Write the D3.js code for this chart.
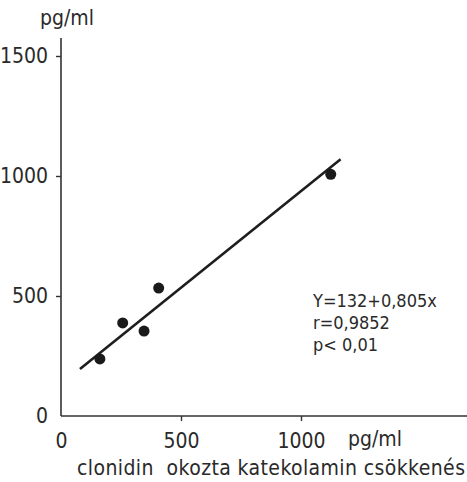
<!DOCTYPE html>
<html>
<head>
<meta charset="utf-8">
<script src="https://cdn.jsdelivr.net/npm/d3@7"></script>
<style>
body { margin: 0; background: #fff; }
text { font-family: "Liberation Sans Narrow", "DejaVu Sans Condensed", "Liberation Sans", sans-serif; fill: #2a2a2a; }
</style>
</head>
<body>
<svg id="chart"></svg>
<script>
// measured points (pg/ml)
var xVals = [162, 257, 346, 407, 1124];
var yVals = [238, 388, 354, 533, 1007];
var xTicks = [0, 500, 1000];
var yTicks = [0, 500, 1000, 1500];
var intercept = 132, slope = 0.805;
var lineRange = [79, 1165];
var statLines = ["Y=132+0,805x", "r=0,9852", "p< 0,01"];

var width = 467,
    height = 482;

var svg = d3.select("#chart").attr("width", width).attr("height", height);

var x = d3.scaleLinear().domain([0, 1000]).range([61, 301]);
var y = d3.scaleLinear().domain([0, 1500]).range([416, 56]);

// axes lines
svg.append("line").attr("x1", x(0)).attr("x2", width).attr("y1", y(0)).attr("y2", y(0))
	.attr("stroke", "#333").attr("stroke-width", 1.6);
svg.append("line").attr("x1", x(0)).attr("x2", x(0)).attr("y1", 38).attr("y2", y(0))
	.attr("stroke", "#333").attr("stroke-width", 1.6);

var xAxis = svg.append("g").attr("transform", "translate(0," + y(0) + ")")
	.call(d3.axisBottom(x).tickValues(xTicks).tickSize(5).tickPadding(12).tickFormat(d3.format("d")));
var yAxis = svg.append("g").attr("transform", "translate(" + x(0) + ",0)")
	.call(d3.axisLeft(y).tickValues(yTicks).tickSize(5).tickPadding(8).tickFormat(d3.format("d")));

[xAxis, yAxis].forEach(function(g) {
	g.select(".domain").remove();
	g.selectAll(".tick line").attr("stroke", "#333").attr("stroke-width", 1.4);
	g.selectAll(".tick text").style("font-size", "21px").attr("fill", "#2a2a2a");
});
xAxis.selectAll(".tick").filter(function(d) { return d == 0; }).select("line").remove();
yAxis.selectAll(".tick").filter(function(d) { return d == 0; }).select("line").remove();

// unit labels
svg.append("text").text("pg/ml").attr("x", 40).attr("y", 25).style("font-size", "21px");
svg.append("text").text("pg/ml").attr("x", 348).attr("y", 446).style("font-size", "21px");
svg.append("text").text("clonidin  okozta katekolamin csökkenés")
	.attr("x", 77).attr("y", 475).style("font-size", "21px").style("white-space", "pre")
	.attr("textLength", 388).attr("lengthAdjust", "spacing");

// regression line
svg.append("line")
	.attr("x1", x(lineRange[0])).attr("y1", y(intercept + slope * lineRange[0]))
	.attr("x2", x(lineRange[1])).attr("y2", y(intercept + slope * lineRange[1]))
	.attr("stroke", "#1e1e1e").attr("stroke-width", 2.6);

// points
svg.selectAll("circle.pt").data(xVals).enter().append("circle")
	.attr("class", "pt")
	.attr("cx", function(d) { return x(d); })
	.attr("cy", function(d, i) { return y(yVals[i]); })
	.attr("r", 5.5)
	.attr("fill", "#1a1a1a");

// stats text
svg.selectAll("text.stat").data(statLines).enter().append("text")
	.attr("class", "stat")
	.text(function(d) { return d; })
	.attr("x", 313)
	.attr("y", function(d, i) { return 307 + i * 22; })
	.style("font-size", "18px");
</script>
</body>
</html>
